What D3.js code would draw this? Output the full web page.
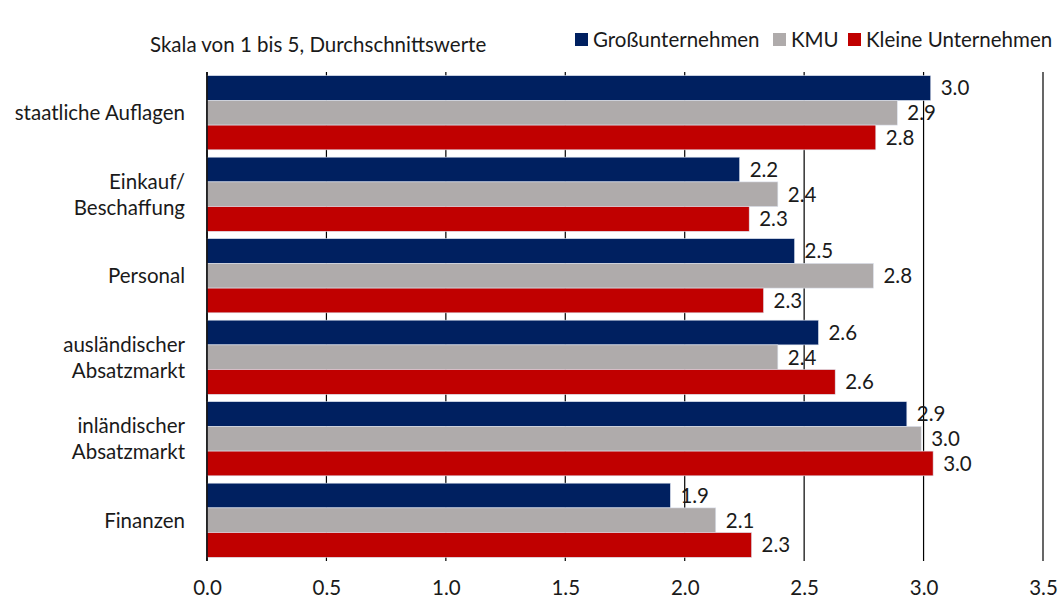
<!DOCTYPE html>
<html><head><meta charset="utf-8">
<script src="https://cdn.jsdelivr.net/npm/d3@7"></script>
<style>body{margin:0;background:#fff}svg{display:block}text{font-family:"Source Sans Pro","Lato","Noto Sans",sans-serif;fill:#1a1a1a}</style>
</head><body>
<svg id="c" width="1061" height="600"></svg>
<script>
const categories = [["staatliche Auflagen"],["Einkauf/","Beschaffung"],["Personal"],["ausländischer","Absatzmarkt"],["inländischer","Absatzmarkt"],["Finanzen"]];
const seriesNames = ["Großunternehmen","KMU","Kleine Unternehmen"];
const gross = [3.03, 2.23, 2.46, 2.56, 2.93, 1.94];
const kmu = [2.89, 2.39, 2.79, 2.39, 2.99, 2.13];
const kleine = [2.80, 2.27, 2.33, 2.63, 3.04, 2.28];
const xTicks = [0,0.5,1,1.5,2,2.5,3,3.5];
const colors = ["#002060","#AFABAB","#C00000"];
const series = [gross, kmu, kleine];

(function(){
const FS = 20.5;
const svg = d3.select("#c");
const L = 207, R = 1043, T = 72, B = 561;
const x = d3.scaleLinear().domain([0,3.5]).range([L,R]);
const cats = categories.map(c=>c.join(" "));
const y0 = d3.scaleBand().domain(cats).range([T,B]).paddingInner(0.09).paddingOuter(0.045);
const y1 = d3.scaleBand().domain(seriesNames).range([0,y0.bandwidth()]);

svg.append("g").selectAll("line").data(xTicks).join("line")
  .attr("x1",d=>x(d)).attr("x2",d=>x(d)).attr("y1",T).attr("y2",B)
  .attr("stroke","#000").attr("stroke-width",1.2);

const g = svg.append("g");
cats.forEach((c,i)=>{
  series.forEach((s,j)=>{
    g.append("rect").attr("x",x(0)).attr("y",y0(c)+y1(seriesNames[j]))
      .attr("width",x(s[i])-x(0)).attr("height",y1.bandwidth())
      .attr("fill",colors[j]).attr("stroke","#dde3ee").attr("stroke-width",0.6);
  });
});
svg.append("line").attr("x1",x(0)).attr("x2",x(0)).attr("y1",T).attr("y2",B).attr("stroke","#000").attr("stroke-width",1.5);

cats.forEach((c,i)=>{
  series.forEach((s,j)=>{
    svg.append("text").attr("x",x(s[i])+10).attr("y",y0(c)+y1(seriesNames[j])+y1.bandwidth()/2)
      .attr("dy","0.36em").attr("font-size",FS).text(d3.format(".1f")(s[i]));
  });
});

cats.forEach((c,i)=>{
  const lines = categories[i];
  const cy = y0(c)+y0.bandwidth()/2;
  const t = svg.append("text").attr("text-anchor","end").attr("font-size",FS);
  lines.forEach((l,k)=>{
    t.append("tspan").attr("x",185).attr("y",cy + (k-(lines.length-1)/2)*26).attr("dy","0.36em").text(l);
  });
});

const ax = svg.append("g").attr("transform",`translate(0,${B})`)
  .call(d3.axisBottom(x).tickValues(xTicks).tickFormat(d3.format(".1f")).tickSize(0).tickPadding(19));
ax.select(".domain").remove();
ax.selectAll("text").attr("font-size",FS).style("font-family",'"Source Sans Pro","Lato","Noto Sans",sans-serif').attr("fill","#1a1a1a");

svg.append("text").attr("x",150).attr("y",52).attr("font-size",FS).text("Skala von 1 bis 5, Durchschnittswerte");

const legX = [575, 773, 848];
seriesNames.forEach((n,j)=>{
  svg.append("rect").attr("x",legX[j]).attr("y",33).attr("width",13).attr("height",13).attr("fill",colors[j]);
  svg.append("text").attr("x",legX[j]+18).attr("y",39.5).attr("dy","0.36em").attr("font-size",FS).text(n);
});
})();
</script>
</body></html>
